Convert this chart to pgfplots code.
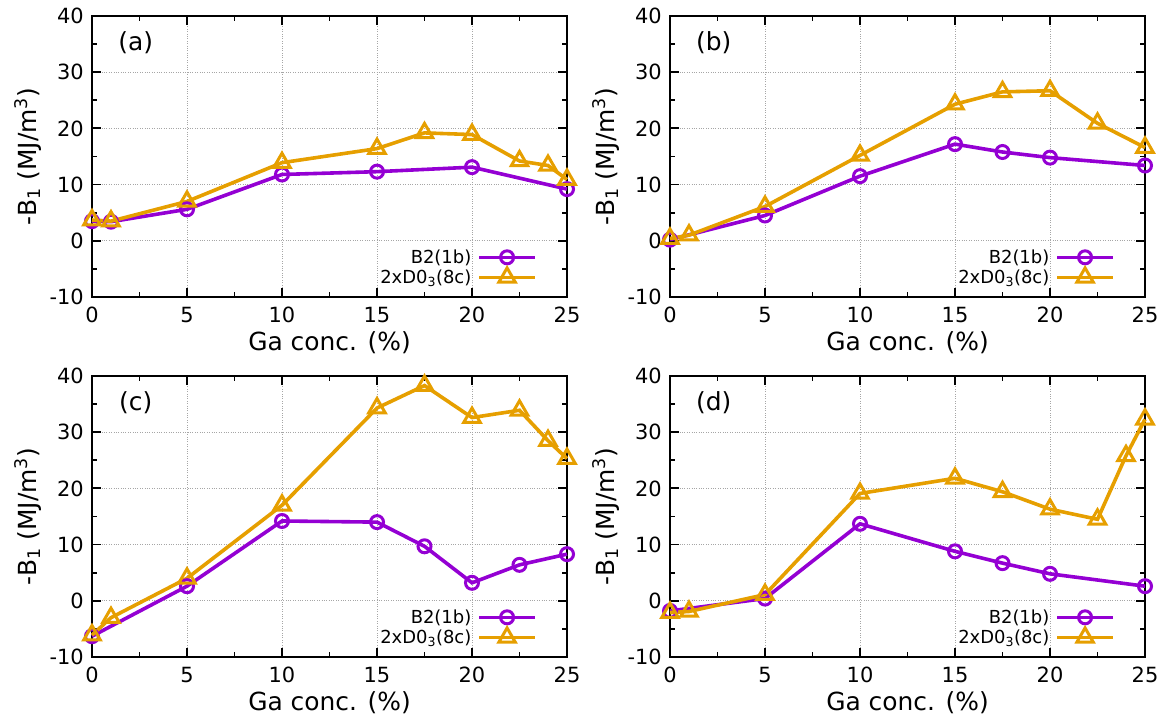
\documentclass[border=0pt]{standalone}
\usepackage{fontspec}
\setmainfont{DejaVu Sans}
\usepackage{pgfplots}
\pgfplotsset{compat=1.18}

\definecolor{cB}{HTML}{9400D3}
\definecolor{cD}{HTML}{E69F00}

\pgfplotsset{
  panel/.style={
    scale only axis, width=475bp, height=281bp,
    xmin=0, xmax=25, ymin=-10, ymax=40,
    xtick={0,5,...,25}, ytick={-10,0,...,40},
    minor x tick num=1, minor y tick num=1,
    tick align=inside, major tick length=9bp, minor tick length=5bp,
    every tick/.style={black, line width=1.8bp},
    axis line style={line width=2.2bp},
    xmajorgrids, ymajorgrids,
    major grid style={dotted, gray!70, line width=0.9bp},
    clip=false,
    /pgf/number format/assume math mode=true,
    ticklabel style={font=\fontsize{21}{25}\selectfont},
    xticklabel style={inner sep=0pt, yshift=-10bp},
    yticklabel style={inner sep=0pt, xshift=-8bp},
    xlabel={Ga conc. (\%)},
    ylabel={-B\textsubscript{1} (MJ/m\textsuperscript{3})},
    xlabel style={at={(axis description cs:0.5,-0.164)}, anchor=center, font=\fontsize{25}{29}\selectfont},
    ylabel style={at={(axis description cs:-0.135,0.5)}, anchor=center, font=\fontsize{25}{29}\selectfont},
    legend style={draw=none, fill=none, inner sep=0pt, at={(rel axis cs:0.937,0.035)}, anchor=south east,
      font=\fontsize{18}{21}\selectfont, row sep=1bp, column sep=4bp},
    legend cell align=right, legend plot pos=right,
    legend image code/.code={\draw[mark repeat=2,mark phase=2,#1] plot coordinates {(0bp,0bp) (28bp,0bp) (56bp,0bp)};},
  },
  sB/.style={color=cB, line width=3.6bp, mark=o, mark size=6.5bp, mark options={fill=white, line width=3bp}},
  sD/.style={color=cD, line width=3.6bp, mark=triangle, mark size=9.5bp, mark options={fill=white, line width=3bp}},
}

\begin{document}
\begin{tikzpicture}
\useasboundingbox (0,0) rectangle (1167bp,720bp);

% (a)
\begin{axis}[panel, at={(92bp,423bp)}, anchor=south west]
\addplot[sB] coordinates {(0,3.5) (1,3.4) (5,5.6) (10,11.8) (15,12.3) (20,13.1) (25,9.2)};
\addplot[sD] coordinates {(0,3.7) (1,3.5) (5,7.0) (10,13.9) (15,16.4) (17.5,19.2) (20,18.9) (22.5,14.2) (24,13.4) (25,10.9)};
\legend{B2(1b), 2xD0\textsubscript{3}(8c)}
\node[font=\fontsize{25}{29}\selectfont] at (axis cs:2.3,35.2) {(a)};
\end{axis}

% (b)
\begin{axis}[panel, at={(670bp,423bp)}, anchor=south west]
\addplot[sB] coordinates {(0,0.2) (5,4.5) (10,11.5) (15,17.2) (17.5,15.8) (20,14.8) (25,13.4)};
\addplot[sD] coordinates {(0,0.4) (1,1.0) (5,6.1) (10,15.2) (15,24.3) (17.5,26.5) (20,26.7) (22.5,20.9) (25,16.6)};
\legend{B2(1b), 2xD0\textsubscript{3}(8c)}
\node[font=\fontsize{25}{29}\selectfont] at (axis cs:2.3,35.2) {(b)};
\end{axis}

% (c)
\begin{axis}[panel, at={(92bp,63bp)}, anchor=south west]
\addplot[sB] coordinates {(0,-6.3) (5,2.6) (10,14.2) (15,14.0) (17.5,9.7) (20,3.2) (22.5,6.4) (25,8.3)};
\addplot[sD] coordinates {(0,-6.1) (1,-3.0) (5,4.0) (10,17.0) (15,34.3) (17.5,38.3) (20,32.6) (22.5,33.9) (24,28.5) (25,25.3)};
\legend{B2(1b), 2xD0\textsubscript{3}(8c)}
\node[font=\fontsize{25}{29}\selectfont] at (axis cs:2.3,35.2) {(c)};
\end{axis}

% (d)
\begin{axis}[panel, at={(670bp,63bp)}, anchor=south west]
\addplot[sB] coordinates {(0,-1.8) (5,0.4) (10,13.7) (15,8.8) (17.5,6.7) (20,4.8) (25,2.6)};
\addplot[sD] coordinates {(0,-2.1) (1,-1.9) (5,1.1) (10,19.1) (15,21.8) (17.5,19.4) (20,16.3) (22.5,14.5) (24,25.8) (25,32.3)};
\legend{B2(1b), 2xD0\textsubscript{3}(8c)}
\node[font=\fontsize{25}{29}\selectfont] at (axis cs:2.3,35.2) {(d)};
\end{axis}
\end{tikzpicture}
\end{document}
